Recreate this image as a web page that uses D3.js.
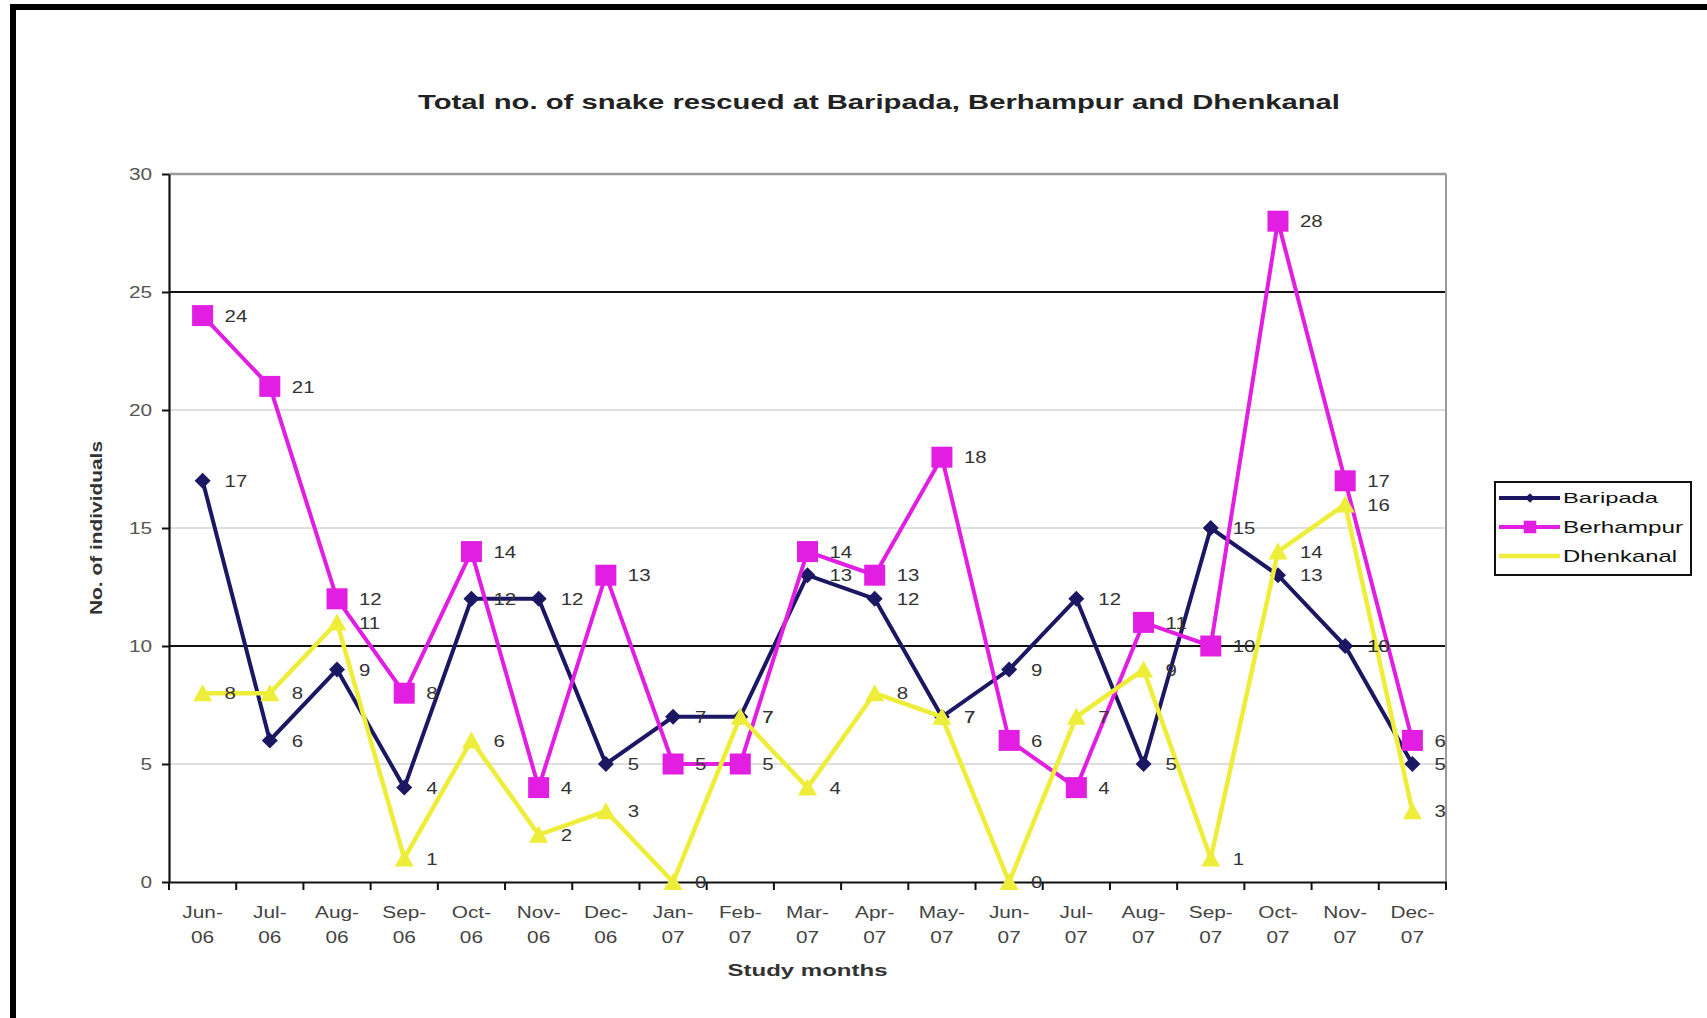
<!DOCTYPE html>
<html>
<head>
<meta charset="utf-8">
<script src="https://cdn.jsdelivr.net/npm/d3@7"></script>
<style>
  html, body { margin: 0; padding: 0; background: #fff; }
  svg { display: block; }
  text { font-family: Arial, "Liberation Sans", sans-serif; }
</style>
</head>
<body>
<svg id="chart" width="1707" height="1018"></svg>
<script>
// Monthly snake rescues, June 2006 – December 2007
const months = ["Jun-06","Jul-06","Aug-06","Sep-06","Oct-06","Nov-06","Dec-06",
                "Jan-07","Feb-07","Mar-07","Apr-07","May-07","Jun-07","Jul-07",
                "Aug-07","Sep-07","Oct-07","Nov-07","Dec-07"];
const baripada  = [17, 6, 9, 4, 12, 12, 5, 7, 7, 13, 12, 7, 9, 12, 5, 15, 13, 10, 5];
const berhampur = [24, 21, 12, 8, 14, 4, 13, 5, 5, 14, 13, 18, 6, 4, 11, 10, 28, 17, 6];
const dhenkanal = [8, 8, 11, 1, 6, 2, 3, 0, 7, 4, 8, 7, 0, 7, 9, 1, 14, 16, 3];
const yTicks = [0, 5, 10, 15, 20, 25, 30];
const seriesNames = ["Baripada", "Berhampur", "Dhenkanal"];

const series = [
  { name: seriesNames[0], values: baripada,  color: "#1c1763", marker: "diamond", width: 4 },
  { name: seriesNames[1], values: berhampur, color: "#e11ee1", marker: "square",  width: 4 },
  { name: seriesNames[2], values: dhenkanal, color: "#eeee3a", marker: "triangle", width: 4.5 }
];

const svg = d3.select("#chart");
const L = 169, R = 1446, T = 174, B = 882;

const x = d3.scaleBand().domain(months).range([L, R]).padding(0);
const y = d3.scaleLinear().domain([0, 30]).range([B, T]);
const cx = m => x(m) + x.bandwidth() / 2;

// widen glyphs horizontally by a factor, keeping the anchor
function stretch(sel, k) {
  sel.each(function () {
    const w = this.getComputedTextLength();
    d3.select(this).attr("textLength", w * k).attr("lengthAdjust", "spacingAndGlyphs");
  });
}

// outer frame (left and top only)
svg.append("rect").attr("x", 10).attr("y", 4).attr("width", 6).attr("height", 1014).attr("fill", "#000");
svg.append("rect").attr("x", 10).attr("y", 4).attr("width", 1697).attr("height", 6).attr("fill", "#000");

// title
svg.append("text")
  .attr("x", 879).attr("y", 109)
  .attr("text-anchor", "middle")
  .attr("font-size", 21).attr("font-weight", "bold").attr("fill", "#222")
  .attr("textLength", 922).attr("lengthAdjust", "spacingAndGlyphs")
  .text("Total no. of snake rescued at Baripada, Berhampur and Dhenkanal");

// horizontal gridlines
const grid = svg.append("g");
yTicks.filter(v => v > 0).forEach(v => {
  const strong = (v === 10 || v === 25);
  grid.append("line")
    .attr("x1", L).attr("x2", R).attr("y1", y(v)).attr("y2", y(v))
    .attr("stroke", strong ? "#111" : (v === 30 ? "#9a9a9a" : "#d4d4d4"))
    .attr("stroke-width", strong ? 2.2 : (v === 30 ? 2.5 : 1.6));
});
// right border of plot area
svg.append("line").attr("x1", R).attr("x2", R).attr("y1", T).attr("y2", B)
  .attr("stroke", "#9a9a9a").attr("stroke-width", 2);

// y axis
const yAxis = svg.append("g").attr("transform", `translate(${L},0)`)
  .call(d3.axisLeft(y).tickValues(yTicks).tickSize(7).tickPadding(10).tickSizeOuter(0));
yAxis.select(".domain").attr("stroke", "#111").attr("stroke-width", 2.2);
yAxis.selectAll(".tick line").attr("stroke", "#111").attr("stroke-width", 2);
yAxis.selectAll(".tick text").attr("font-size", 16).attr("fill", "#555")
  .attr("font-family", "Arial, 'Liberation Sans', sans-serif");
stretch(yAxis.selectAll(".tick text"), 1.3);

// x axis line with ticks at band boundaries
const xAxis = svg.append("g").attr("transform", `translate(0,${B})`)
  .call(d3.axisBottom(x).tickSize(0).tickSizeOuter(0).tickFormat(""));
xAxis.select(".domain").attr("stroke", "#111").attr("stroke-width", 2.2);
const bounds = months.map(m => x(m)).concat([R]);
xAxis.selectAll(".bound").data(bounds).join("line").attr("class", "bound")
  .attr("x1", d => d).attr("x2", d => d).attr("y1", 0).attr("y2", 8)
  .attr("stroke", "#111").attr("stroke-width", 2);

// two-line month labels
const xl = svg.append("g");
months.forEach(m => {
  const parts = m.split("-");
  xl.append("text").attr("x", cx(m)).attr("y", 918).attr("text-anchor", "middle")
    .attr("font-size", 16).attr("fill", "#444").text(parts[0] + "-");
  xl.append("text").attr("x", cx(m)).attr("y", 943).attr("text-anchor", "middle")
    .attr("font-size", 16).attr("fill", "#444").text(parts[1]);
});
stretch(xl.selectAll("text"), 1.3);

// axis titles
svg.append("text")
  .attr("x", (L + R) / 2).attr("y", 976).attr("text-anchor", "middle")
  .attr("font-size", 17).attr("font-weight", "bold").attr("fill", "#333")
  .attr("textLength", 160).attr("lengthAdjust", "spacingAndGlyphs")
  .text("Study months");
svg.append("text")
  .attr("transform", `translate(102,528) rotate(-90)`)
  .attr("text-anchor", "middle")
  .attr("font-size", 16).attr("font-weight", "bold").attr("fill", "#333")
  .attr("textLength", 174).attr("lengthAdjust", "spacingAndGlyphs")
  .text("No. of individuals");

// marker shapes
function markerPath(type) {
  if (type === "diamond") return "M0,-8L8,0L0,8L-8,0Z";
  if (type === "square") return "M-10.5,-10.5H10.5V10.5H-10.5Z";
  return "M0,-9L9.5,8H-9.5Z";
}

const line = d3.line().x((d, i) => cx(months[i])).y(d => y(d));
const plot = svg.append("g");
series.forEach(s => {
  const g = plot.append("g");
  g.append("path").datum(s.values)
    .attr("d", line).attr("fill", "none")
    .attr("stroke", s.color).attr("stroke-width", s.width)
    .attr("stroke-linejoin", "miter");
  g.selectAll("path.mk").data(s.values).join("path").attr("class", "mk")
    .attr("d", markerPath(s.marker))
    .attr("transform", (d, i) => `translate(${cx(months[i])},${y(d)})`)
    .attr("fill", s.color);
});

// value labels beside each point
const labels = svg.append("g");
series.forEach(s => {
  labels.selectAll(null).data(s.values).join("text")
    .attr("x", (d, i) => cx(months[i]) + 22)
    .attr("y", d => y(d))
    .attr("dy", "0.36em")
    .attr("font-size", 17).attr("fill", "#333")
    .text(d => d);
});
stretch(labels.selectAll("text"), 1.2);

// legend
const lg = svg.append("g");
lg.append("rect").attr("x", 1495).attr("y", 482).attr("width", 196).attr("height", 93)
  .attr("fill", "#fff").attr("stroke", "#111").attr("stroke-width", 2);
const legendY = [498, 527, 556];
const legendLen = [95, 120, 114];
series.forEach((s, i) => {
  const yy = legendY[i];
  lg.append("line").attr("x1", 1499).attr("x2", 1560).attr("y1", yy).attr("y2", yy)
    .attr("stroke", s.color).attr("stroke-width", s.width);
  if (s.marker !== "triangle") {
    lg.append("path").attr("d", markerPath(s.marker))
      .attr("transform", `translate(1530,${yy}) scale(0.6)`)
      .attr("fill", s.color);
  }
  lg.append("text").attr("x", 1563).attr("y", yy).attr("dy", "0.36em")
    .attr("font-size", i === 0 ? 15 : 17).attr("fill", "#111")
    .attr("textLength", legendLen[i]).attr("lengthAdjust", "spacingAndGlyphs")
    .text(s.name);
});
</script>
</body>
</html>
